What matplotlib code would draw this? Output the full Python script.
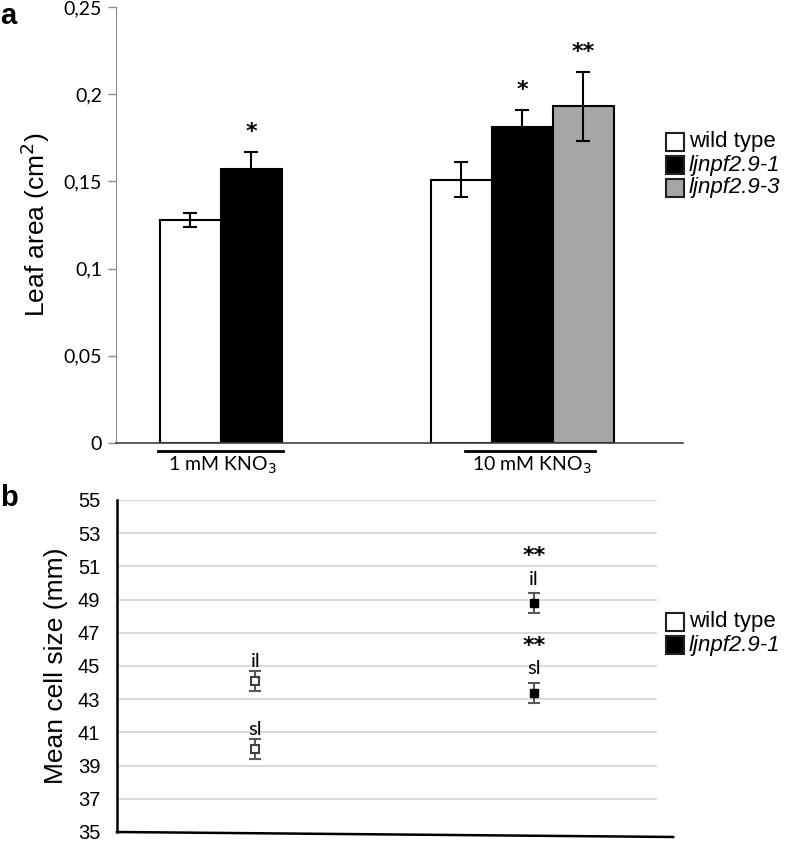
import matplotlib
matplotlib.use("Agg")
import matplotlib.pyplot as plt
from matplotlib.patches import Rectangle
import matplotlib.transforms as mtransforms
import numpy as np

# panel a data: leaf area (cm2)
groups_a = ["1 mM KNO$_3$", "10 mM KNO$_3$"]
wt_area = [0.128, 0.151]
wt_area_err = [0.004, 0.010]
m1_area = [0.157, 0.181]
m1_area_err = [0.010, 0.010]
m3_area = [0.193]          # only measured at 10 mM
m3_area_err = [0.020]
m1_stars = ["*", "*"]
m3_stars = ["**"]

# panel b data: mean cell size (mm)
layers_b = ["il", "sl"]
wt_cell = [44.1, 40.0]
wt_cell_err = [0.6, 0.6]
m1_cell = [48.8, 43.4]
m1_cell_err = [0.6, 0.6]
m1_cell_stars = ["**", "**"]

W, H = 787, 843
fig = plt.figure(figsize=(W / 100, H / 100), dpi=100)


def fx(px):
    return px / W


def fy(py):
    return 1 - py / H


SANS = "Liberation Sans"
CAL = "Lato"
STAR = dict(family="DejaVu Sans", fontsize=16, fontweight="bold")

# ---------------- panel a ----------------
ax = fig.add_axes([fx(116), fy(443), fx(683 - 116), (443 - 7) / H])
bw = 1.0
c1, c2 = 1.72, 6.66
ax.bar([c1 - 0.5, c2 - 1], wt_area, bw, color="white", edgecolor="black", lw=1.5, zorder=2)
ax.bar([c1 + 0.5, c2], m1_area, bw, color="black", edgecolor="black", lw=1.5, zorder=2)
ax.bar([c2 + 1], m3_area, bw, color="#a6a6a6", edgecolor="black", lw=1.5, zorder=2)
ekw = dict(fmt="none", ecolor="black", elinewidth=1.5, capsize=5, capthick=1.5, zorder=3)
ax.errorbar([c1 - 0.5, c2 - 1], wt_area, yerr=wt_area_err, **ekw)
ax.errorbar([c1 + 0.5, c2], m1_area, yerr=m1_area_err, **ekw)
ax.errorbar([c2 + 1], m3_area, yerr=m3_area_err, **ekw)
for x, v, e, s in zip([c1 + 0.5, c2], m1_area, m1_area_err, m1_stars):
    ax.text(x, v + e + 0.008, s, ha="center", va="baseline", **STAR)
for x, v, e, s in zip([c2 + 1], m3_area, m3_area_err, m3_stars):
    ax.text(x, v + e + 0.008, s, ha="center", va="baseline", **STAR)

ax.set_xlim(0, (683 - 116) / 61)
ax.set_ylim(0, 0.25)
ax.set_yticks([0, 0.05, 0.1, 0.15, 0.2, 0.25])
ax.set_yticklabels(["0", "0,05", "0,1", "0,15", "0,2", "0,25"], family=CAL, fontsize=14)
ax.tick_params(axis="y", length=6, color="#8c8c8c", width=1, pad=4)
ax.set_xticks([])
for s in ["top", "right"]:
    ax.spines[s].set_visible(False)
ax.spines["left"].set_color("#8c8c8c")
ax.spines["bottom"].set_color("#404040")
ax.spines["bottom"].set_linewidth(1.2)
ax.set_ylabel("Leaf area (cm$^2$)", family=SANS, fontsize=19, labelpad=8)

# group labels under the axis
trans = mtransforms.blended_transform_factory(ax.transData, ax.transAxes)
dy_line = -8 / (443 - 7)
dy_text = -22 / (443 - 7)
for (x0, x1), xt, lab in zip([(0.69, 2.74), (5.72, 7.85)], [1.74, 6.82], groups_a):
    ax.plot([x0, x1], [dy_line, dy_line], color="black", lw=2, transform=trans, clip_on=False)
    ax.text(xt, dy_text, lab, ha="center", va="center", family=CAL, fontsize=14,
            transform=trans)

# ---------------- panel b ----------------
bx = fig.add_axes([fx(117), fy(832), fx(657 - 117), (832 - 500) / H])
bx.set_xlim(0, 1)
bx.set_ylim(35, 55)
yt = np.arange(35, 56, 2)
bx.set_yticks(yt)
bx.set_yticklabels([str(v) for v in yt], family=SANS, fontsize=14.5)
bx.tick_params(axis="y", length=0, pad=12)
bx.set_xticks([])
for v in yt[1:]:
    bx.axhline(v, color="#d9d9d9", lw=1.4, zorder=0)
for s in ["top", "right", "bottom"]:
    bx.spines[s].set_visible(False)
bx.spines["left"].set_linewidth(1.8)
bx.plot([0, 1.03], [0, -0.015], color="black", lw=1.8, transform=bx.transAxes, clip_on=False)
bx.set_ylabel("Mean cell size (mm)", family=SANS, fontsize=19, labelpad=7)

xw, xm = 0.256, 0.772
bkw = dict(fmt="none", ecolor="#595959", elinewidth=1.5, capsize=4, capthick=1.5, zorder=3)
bx.errorbar([xw] * 2, wt_cell, yerr=wt_cell_err, **bkw)
bx.errorbar([xm] * 2, m1_cell, yerr=m1_cell_err, **bkw)
bx.plot([xw] * 2, wt_cell, "s", ms=5.5, mfc="white", mec="#404040", mew=1.5, ls="none", zorder=4)
bx.plot([xm] * 2, m1_cell, "s", ms=5.5, mfc="black", mec="black", ls="none", zorder=4)
for v, lab in zip(wt_cell, layers_b):
    bx.text(xw, v + 0.85, lab, ha="center", va="baseline", family=CAL, fontsize=14.5)
for v, lab, st in zip(m1_cell, layers_b, m1_cell_stars):
    bx.text(xm, v + 1.1, lab, ha="center", va="baseline", family=CAL, fontsize=14.5)
    bx.text(xm, v + 2.45, st, ha="center", va="baseline", **STAR)

# ---------------- legends ----------------
def legend(rows, centers):
    for (label, fc, italic), cy in zip(rows, centers):
        fig.add_artist(Rectangle((fx(666), fy(cy + 9)), fx(684) - fx(666), 18 / H,
                                 transform=fig.transFigure, facecolor=fc,
                                 edgecolor="#202020", lw=1.5))
        fig.text(fx(689), fy(cy), label, ha="left", va="center", family=SANS,
                 fontsize=16, style="italic" if italic else "normal")


legend([("wild type", "white", False), ("ljnpf2.9-1", "black", True),
        ("ljnpf2.9-3", "#a6a6a6", True)], [142, 165, 188])
legend([("wild type", "white", False), ("ljnpf2.9-1", "black", True)], [622, 645])

fig.text(0.0, fy(16), "a", family=SANS, fontweight="bold", fontsize=21, va="center", ha="left")
fig.text(0.0, fy(498), "b", family=SANS, fontweight="bold", fontsize=21, va="center", ha="left")

fig.savefig("out.png", dpi=100)
